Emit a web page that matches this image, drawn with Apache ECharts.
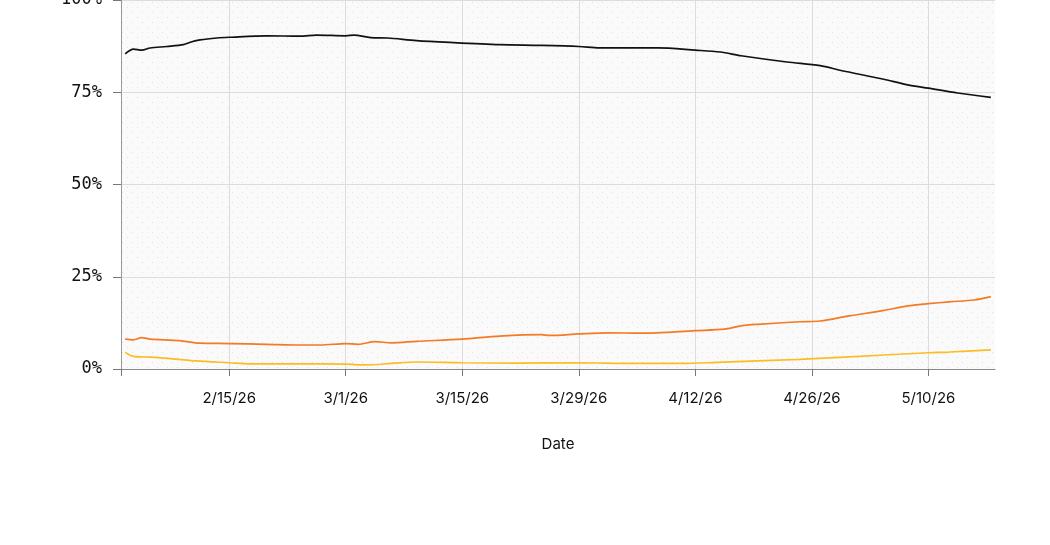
<!DOCTYPE html>
<html>
<head>
<meta charset="utf-8">
<script src="https://cdn.jsdelivr.net/npm/echarts@6/dist/echarts.min.js"></script>
<style>
html,body{margin:0;padding:0;background:#fff;}
#chart{width:1050px;height:545px;}
</style>
</head>
<body>
<div id="chart"></div>
<script>
// ---- data ----
const tickDates = ['2026-02-15', '2026-03-01', '2026-03-15', '2026-03-29', '2026-04-12', '2026-04-26', '2026-05-10'];
const axisStart = '2026-02-02';
const axisEnd = '2026-05-18';
const yTicks = [0, 25, 50, 75, 100];

const blackDates = ['2026-02-02T12','2026-02-03T12','2026-02-04T12','2026-02-05T12','2026-02-07T12','2026-02-09T12','2026-02-10T12','2026-02-11T12','2026-02-13T12','2026-02-15T00','2026-02-19T12','2026-02-23T12','2026-02-25T12','2026-03-01T00','2026-03-02T00','2026-03-04T00','2026-03-06T00','2026-03-09T12','2026-03-13T12','2026-03-19T12','2026-03-24T12','2026-03-29T00','2026-03-31T12','2026-04-07T12','2026-04-12T00','2026-04-15T00','2026-04-17T12','2026-04-23T00','2026-04-27T00','2026-04-29T12','2026-05-04T12','2026-05-07T12','2026-05-10T00','2026-05-13T12','2026-05-17T12'];
const blackValues = [85.4,86.7,86.4,87.0,87.4,87.9,88.7,89.2,89.7,89.9,90.3,90.2,90.5,90.3,90.5,89.8,89.7,89.0,88.5,87.9,87.7,87.4,87.0,87.0,86.4,85.9,84.9,83.2,82.2,80.9,78.6,77.0,76.1,74.8,73.6];

const orangeDates = ['2026-02-02T12','2026-02-03T12','2026-02-04T12','2026-02-05T12','2026-02-09T00','2026-02-11T12','2026-02-15T00','2026-02-19T12','2026-02-23T12','2026-02-26T00','2026-03-01T00','2026-03-02T12','2026-03-04T12','2026-03-06T12','2026-03-09T12','2026-03-15T00','2026-03-19T12','2026-03-24T12','2026-03-25T12','2026-03-29T00','2026-04-01T12','2026-04-05T12','2026-04-12T00','2026-04-15T12','2026-04-17T12','2026-04-19T12','2026-04-24T12','2026-04-27T00','2026-04-30T12','2026-05-04T12','2026-05-07T12','2026-05-10T00','2026-05-12T12','2026-05-15T12','2026-05-17T12'];
const orangeValues = [8.1,7.9,8.5,8.1,7.7,7.0,6.9,6.7,6.5,6.5,6.9,6.7,7.4,7.1,7.5,8.1,8.9,9.3,9.1,9.5,9.8,9.7,10.4,10.8,11.7,12.1,12.8,13.0,14.4,15.8,17.1,17.7,18.2,18.7,19.6];

const yellowDates = ['2026-02-02T12','2026-02-03T12','2026-02-05T12','2026-02-08T12','2026-02-11T00','2026-02-15T00','2026-02-17T12','2026-02-23T12','2026-03-01T00','2026-03-03T12','2026-03-06T12','2026-03-09T12','2026-03-15T00','2026-03-21T12','2026-03-29T00','2026-04-04T12','2026-04-10T12','2026-04-14T12','2026-04-24T12','2026-04-30T12','2026-05-10T00','2026-05-12T12','2026-05-17T12'];
const yellowValues = [4.5,3.4,3.2,2.7,2.2,1.7,1.4,1.4,1.3,1.1,1.5,1.9,1.7,1.6,1.7,1.5,1.5,1.8,2.6,3.3,4.4,4.6,5.2];

// ---- helpers: x values are days since axisStart ----
const DAY = 86400000;
function ts(s) {
  const [d, h] = s.split('T');
  const [y, m, dd] = d.split('-').map(Number);
  return Date.UTC(y, m - 1, dd, h ? Number(h) : 0);
}
const t0 = ts(axisStart);
function dayOf(s) { return (ts(s) - t0) / DAY; }
function pairs(dates, vals) { return dates.map((d, i) => [dayOf(d), vals[i]]); }
function fmtDate(v) {
  const d = new Date(t0 + Math.round(v) * DAY);
  return (d.getUTCMonth() + 1) + '/' + d.getUTCDate() + '/' + String(d.getUTCFullYear()).slice(2);
}

// dotted background pattern
const pc = document.createElement('canvas');
pc.width = 10; pc.height = 10;
const pctx = pc.getContext('2d');
pctx.fillStyle = '#fafafa';
pctx.fillRect(0, 0, 10, 10);
pctx.fillStyle = '#e0e0e0';
pctx.fillRect(2, 2, 1, 1);
pctx.fillRect(7, 7, 1, 1);

const chart = echarts.init(document.getElementById('chart'), null, {renderer: 'canvas'});
const tickDays = tickDates.map(dayOf);
const option = {
  animation: false,
  grid: {
    left: 121, right: 55, top: 0, bottom: 176,
    outerBoundsMode: 'none',
    containLabel: false,
    show: true, borderWidth: 0,
    backgroundColor: {image: pc, repeat: 'repeat'}
  },
  xAxis: {
    type: 'value',
    min: 0,
    max: dayOf(axisEnd),
    name: 'Date',
    nameLocation: 'middle',
    nameGap: 68,
    nameTextStyle: {color: '#111', fontSize: 15, fontFamily: 'Inter'},
    axisLine: {show: true, lineStyle: {color: '#888', width: 1}},
    axisTick: {show: true, length: 7, lineStyle: {color: '#777'}, customValues: [0].concat(tickDays)},
    axisLabel: {
      customValues: tickDays,
      formatter: fmtDate,
      color: '#111', fontSize: 15, fontFamily: 'Inter', margin: 22
    },
    splitLine: {show: true, lineStyle: {color: '#dcdcdc', width: 1}}
  },
  yAxis: {
    type: 'value',
    min: yTicks[0], max: yTicks[yTicks.length - 1], interval: 25,
    axisLine: {show: true, lineStyle: {color: '#999', width: 1}},
    axisTick: {show: true, length: 8, lineStyle: {color: '#777'}},
    axisLabel: {formatter: '{value}%', color: '#111', fontSize: 17, fontFamily: 'DejaVu Sans Mono', margin: 19},
    splitLine: {show: true, lineStyle: {color: '#dcdcdc', width: 1}}
  },
  series: [
    {name: 'Black', type: 'line', data: pairs(blackDates, blackValues), showSymbol: false, smooth: 0.3,
     lineStyle: {color: '#111111', width: 1.7}, itemStyle: {color: '#111111'}},
    {name: 'Orange', type: 'line', data: pairs(orangeDates, orangeValues), showSymbol: false, smooth: 0.3,
     lineStyle: {color: '#f47a25', width: 1.7}, itemStyle: {color: '#f47a25'}},
    {name: 'Yellow', type: 'line', data: pairs(yellowDates, yellowValues), showSymbol: false, smooth: 0.3,
     lineStyle: {color: '#fbbd23', width: 1.7}, itemStyle: {color: '#fbbd23'}}
  ]
};
chart.setOption(option);
</script>
</body>
</html>
